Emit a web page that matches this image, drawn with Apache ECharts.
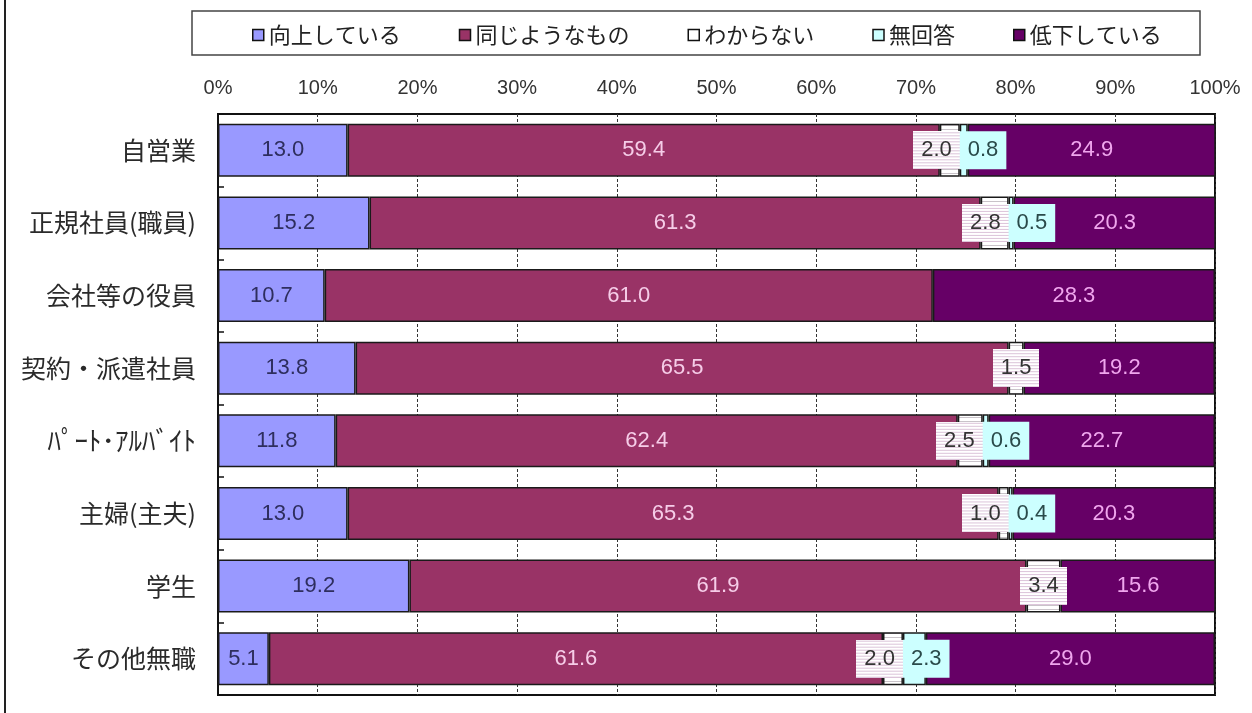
<!DOCTYPE html>
<html>
<head>
<meta charset="utf-8">
<script src="https://cdn.jsdelivr.net/npm/echarts@6/dist/echarts.min.js"></script>
<style>html,body{margin:0;padding:0;background:#fff;}#c{width:1252px;height:713px;}</style>
</head>
<body>
<div id="c"></div>
<script>
const categories = ['自営業','正規社員(職員)','会社等の役員','契約・派遣社員','ﾊﾟｰﾄ･ｱﾙﾊﾞｲﾄ','主婦(主夫)','学生','その他無職'];
const seriesNames = ['向上している','同じようなもの','わからない','無回答','低下している'];
const improving = [13.0,15.2,10.7,13.8,11.8,13.0,19.2,5.1];
const same      = [59.4,61.3,61.0,65.5,62.4,65.3,61.9,61.6];
const unknown   = [2.0,2.8,null,1.5,2.5,1.0,3.4,2.0];
const noAnswer  = [0.8,0.5,null,null,0.6,0.4,null,2.3];
const declining = [24.9,20.3,28.3,19.2,22.7,20.3,15.6,29.0];

function stripeCanvas(w, h, bg, line, step) {
  const c = document.createElement('canvas');
  c.width = w; c.height = h;
  const g = c.getContext('2d');
  g.fillStyle = bg; g.fillRect(0, 0, w, h);
  g.fillStyle = line;
  for (let y = 1; y < h; y += step) g.fillRect(0, y, w, 1);
  return c;
}
const segPattern = stripeCanvas(8, 8, '#ffffff', '#c9c3c9', 4);
const labelBg = stripeCanvas(46, 38, '#ffffff', '#dcc4da', 3);

const chart = echarts.init(document.getElementById('c'));
const fmt = p => (p.value == null ? '' : p.value.toFixed(1));
const numFont = "'Liberation Sans', Arial, sans-serif";
const jpFont = "'Noto Sans CJK JP', sans-serif";
const border = {borderColor: '#1a1a1a', borderWidth: 1.5};

function baseLabel(color) {
  return {show: true, position: 'inside', formatter: fmt, color: color,
          fontSize: 22, fontFamily: numFont};
}

const unknownData = unknown.map((v, i) => v == null ? null : {
  value: v,
  label: noAnswer[i] != null ? {position: 'insideRight', distance: 0} : {position: 'inside'}
});
const noAnswerData = noAnswer.map((v, i) => v == null ? null : {
  value: v,
  label: unknown[i] != null ? {position: 'insideLeft', distance: 0} : {position: 'inside'}
});

const option = {
  backgroundColor: '#fff',
  animation: false,
  textStyle: {fontFamily: "'Liberation Sans', 'Noto Sans CJK JP', sans-serif"},
  graphic: [
    {type: 'line', shape: {x1: 5, y1: 0, x2: 5, y2: 713}, style: {stroke: '#222', lineWidth: 2}},
    {type: 'rect', shape: {x: 192, y: 11, width: 1008, height: 44}, style: {fill: 'none', stroke: '#444', lineWidth: 1.5}}
  ],
  legend: {
    left: 247, top: 19, itemWidth: 11, itemHeight: 11, itemGap: 58,
    icon: 'rect',
    textStyle: {fontSize: 22, color: '#222', fontFamily: jpFont},
    itemStyle: {borderColor: '#111', borderWidth: 1.5},
    data: [
      {name: seriesNames[0]},
      {name: seriesNames[1]},
      {name: seriesNames[2], itemStyle: {color: '#fff'}},
      {name: seriesNames[3]},
      {name: seriesNames[4]}
    ]
  },
  grid: {left: 218, right: 37, top: 114, bottom: 18, show: true, borderColor: '#111', borderWidth: 2, containLabel: false},
  xAxis: {
    type: 'value', position: 'top', min: 0, max: 100, interval: 10,
    axisLine: {show: false}, axisTick: {show: false},
    axisLabel: {formatter: '{value}%', fontSize: 20, color: '#333', margin: 16, fontFamily: numFont},
    splitLine: {show: true, lineStyle: {color: '#333', width: 1, type: [3, 2]}}
  },
  yAxis: {
    type: 'category', data: categories, inverse: true,
    axisLine: {show: true, lineStyle: {color: '#111', width: 2}},
    axisTick: {show: true, inside: true, length: 6, lineStyle: {color: '#111', width: 1.5}},
    axisLabel: {
      fontSize: 25, color: '#2a2a2a', margin: 22, fontFamily: jpFont,
      formatter: v => /[\uFF61-\uFF9F]/.test(v) ? '{h|' + v + '}' : v,
      rich: {h: {fontSize: 27, color: '#2a2a2a', fontFamily: jpFont}}
    }
  },
  series: [
    {name: seriesNames[0], type: 'bar', stack: 't', barWidth: 53, data: improving,
     itemStyle: Object.assign({color: '#9999ff'}, border), label: baseLabel('#2e2e5e')},
    {name: seriesNames[1], type: 'bar', stack: 't', barWidth: 53, data: same,
     itemStyle: Object.assign({color: '#993366'}, border), label: baseLabel('#f6cde8')},
    {name: seriesNames[2], type: 'bar', stack: 't', barWidth: 53, data: unknownData,
     itemStyle: Object.assign({color: {image: segPattern, repeat: 'repeat'}}, border),
     label: Object.assign(baseLabel('#333'), {backgroundColor: {image: labelBg}, padding: [7, 8], lineHeight: 24})},
    {name: seriesNames[3], type: 'bar', stack: 't', barWidth: 53, data: noAnswerData,
     itemStyle: Object.assign({color: '#ccffff'}, border),
     label: Object.assign(baseLabel('#2a4a4a'), {backgroundColor: '#ccffff', padding: [7, 8], lineHeight: 24})},
    {name: seriesNames[4], type: 'bar', stack: 't', barWidth: 53, data: declining,
     itemStyle: Object.assign({color: '#660066'}, border), label: baseLabel('#f0a6ee')}
  ]
};
chart.setOption(option);
</script>
</body>
</html>
